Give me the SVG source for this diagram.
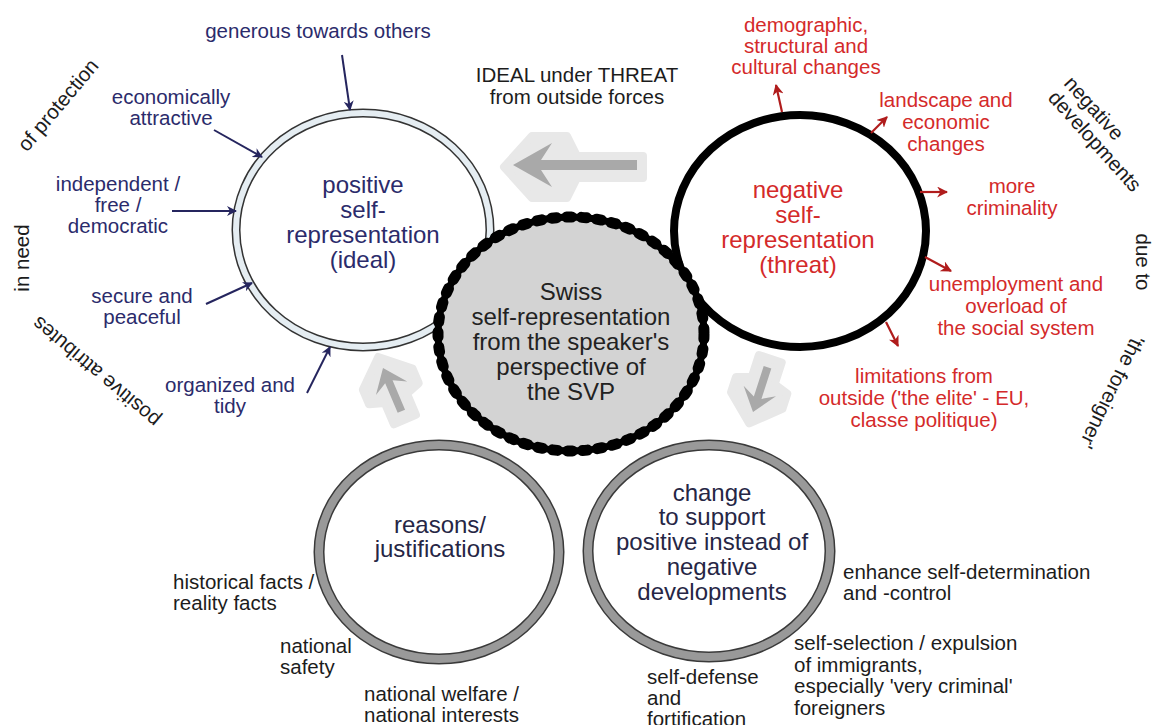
<svg xmlns="http://www.w3.org/2000/svg" width="1157" height="725" viewBox="0 0 1157 725">
<style>
text{font-family:"Liberation Sans",Arial,sans-serif}
.lbl{font-size:20.5px}
.big{font-size:24px;text-anchor:middle}
.blue{fill:#2b2b6b}
.red{fill:#d42a2a}
.blk{fill:#1c1c1c}
.mid{text-anchor:middle}
.bl{stroke:#25255e;stroke-width:2;fill:none}
.rl{stroke:#b01c1c;stroke-width:2.2;fill:none}
.outer{fill:#e8e8e8;stroke:#e8e8e8;stroke-width:8;stroke-linejoin:round}
.inner{fill:#a9a9a9}
</style>
<defs>
<marker id="ab" viewBox="0 0 10 10" refX="9" refY="5" markerWidth="5" markerHeight="5" orient="auto" markerUnits="strokeWidth"><path d="M0,0 L10,5 L0,10 L3,5 z" fill="#25255e"/></marker>
<marker id="ar" viewBox="0 0 10 10" refX="9" refY="5" markerWidth="5" markerHeight="5" orient="auto" markerUnits="strokeWidth"><path d="M0,0 L10,5 L0,10 L3,5 z" fill="#b01c1c"/></marker>
</defs>
<rect width="1157" height="725" fill="#fff"/>

<g id="positive">
<ellipse cx="363" cy="230" rx="127" ry="117" fill="#fff" stroke="#333" stroke-width="9"/>
<ellipse cx="363" cy="230" rx="127" ry="117" fill="none" stroke="#e5edf2" stroke-width="6"/>
<text class="big blue"><tspan x="363" y="193">positive</tspan><tspan x="363" y="218">self-</tspan><tspan x="363" y="243">representation</tspan><tspan x="363" y="268">(ideal)</tspan></text>
</g>

<g id="negative">
<ellipse cx="800" cy="231" rx="126" ry="116" fill="#fff" stroke="#000" stroke-width="8"/>
<text class="big red"><tspan x="798" y="198">negative</tspan><tspan x="798" y="223">self-</tspan><tspan x="798" y="248">representation</tspan><tspan x="798" y="273">(threat)</tspan></text>
</g>

<g id="reasons">
<ellipse cx="439" cy="552" rx="120" ry="107" fill="#fff" stroke="#3a3a3a" stroke-width="11"/>
<ellipse cx="439" cy="552" rx="120" ry="107" fill="none" stroke="#999" stroke-width="8"/>
<text class="big" fill="#262645"><tspan x="440" y="533">reasons/</tspan><tspan x="440" y="557">justifications</tspan></text>
</g>

<g id="change">
<ellipse cx="709" cy="551" rx="121" ry="106" fill="#fff" stroke="#3a3a3a" stroke-width="11"/>
<ellipse cx="709" cy="551" rx="121" ry="106" fill="none" stroke="#999" stroke-width="8"/>
<text class="big" fill="#262645"><tspan x="712" y="501">change</tspan><tspan x="712" y="525">to support</tspan><tspan x="712" y="550">positive instead of</tspan><tspan x="712" y="575">negative</tspan><tspan x="712" y="600">developments</tspan></text>
</g>

<g id="flow-arrows">
<g id="arrow-left">
<polygon class="outer" points="504,167 532,136 567,136 577,156 643,156 643,178 577,178 567,198 532,198"/>
<polygon class="inner" points="513,165 552,143 541,160 637,160 637,170 541,170 552,187"/>
</g>
<g id="arrow-up" transform="translate(383,368) rotate(67)">
<polygon class="outer" points="-12,0 12,-27 28,-27 33,-12 56,-12 56,12 33,12 28,27 12,27"/>
<polygon class="inner" points="0,0 22,-17 15,-4 47,-4 47,4 15,4 22,17"/>
</g>
<g id="arrow-down" transform="translate(753,412) rotate(-72)">
<polygon class="outer" points="-12,0 12,-27 28,-27 33,-12 56,-12 56,12 33,12 28,27 12,27"/>
<polygon class="inner" points="0,0 22,-17 15,-4 47,-4 47,4 15,4 22,17"/>
</g>
</g>

<g id="swiss">
<ellipse cx="571" cy="334" rx="133" ry="117" fill="#d3d3d3" stroke="#000" stroke-width="7"/>
<ellipse cx="571" cy="334" rx="133" ry="117" fill="none" stroke="#000" stroke-width="11" stroke-dasharray="5 10" stroke-linecap="round"/>
<text class="big" fill="#222"><tspan x="571" y="300">Swiss</tspan><tspan x="571" y="325">self-representation</tspan><tspan x="571" y="350">from the speaker's</tspan><tspan x="571" y="375">perspective of</tspan><tspan x="571" y="400">the SVP</tspan></text>
</g>

<g id="connectors">
<line class="bl" x1="342" y1="55" x2="350" y2="110" marker-end="url(#ab)"/>
<line class="bl" x1="214" y1="130" x2="262" y2="157" marker-end="url(#ab)"/>
<line class="bl" x1="172" y1="211" x2="236" y2="211" marker-end="url(#ab)"/>
<line class="bl" x1="206" y1="304" x2="252" y2="283" marker-end="url(#ab)"/>
<line class="bl" x1="307" y1="393" x2="330" y2="347" marker-end="url(#ab)"/>
<line class="rl" x1="782" y1="112" x2="776" y2="85" marker-end="url(#ar)"/>
<line class="rl" x1="871" y1="133" x2="887" y2="117" marker-end="url(#ar)"/>
<line class="rl" x1="920" y1="192" x2="947" y2="192" marker-end="url(#ar)"/>
<line class="rl" x1="925" y1="257" x2="951" y2="271" marker-end="url(#ar)"/>
<line class="rl" x1="886" y1="322" x2="898" y2="346" marker-end="url(#ar)"/>
</g>

<g id="labels-positive" class="lbl blue mid">
<text x="318" y="38">generous towards others</text>
<text><tspan x="171" y="104">economically</tspan><tspan x="171" y="125">attractive</tspan></text>
<text><tspan x="118" y="191">independent /</tspan><tspan x="118" y="212">free /</tspan><tspan x="118" y="233">democratic</tspan></text>
<text><tspan x="142" y="303">secure and</tspan><tspan x="142" y="324">peaceful</tspan></text>
<text><tspan x="230" y="392">organized and</tspan><tspan x="230" y="413">tidy</tspan></text>
</g>

<g id="labels-negative" class="lbl red mid">
<text><tspan x="806" y="32">demographic,</tspan><tspan x="806" y="53">structural and</tspan><tspan x="806" y="74">cultural changes</tspan></text>
<text><tspan x="946" y="107">landscape and</tspan><tspan x="946" y="129">economic</tspan><tspan x="946" y="151">changes</tspan></text>
<text><tspan x="1012" y="193">more</tspan><tspan x="1012" y="215">criminality</tspan></text>
<text><tspan x="1016" y="291">unemployment and</tspan><tspan x="1016" y="313">overload of</tspan><tspan x="1016" y="335">the social system</tspan></text>
<text><tspan x="924" y="383">limitations from</tspan><tspan x="924" y="405">outside ('the elite' - EU,</tspan><tspan x="924" y="427">classe politique)</tspan></text>
</g>

<g id="labels-black" class="lbl blk">
<text class="mid"><tspan x="577" y="82">IDEAL under THREAT</tspan><tspan x="577" y="104">from outside forces</tspan></text>
<text><tspan x="173" y="589">historical facts /</tspan><tspan x="173" y="610">reality facts</tspan></text>
<text><tspan x="280" y="653">national</tspan><tspan x="280" y="674">safety</tspan></text>
<text><tspan x="364" y="701">national welfare /</tspan><tspan x="364" y="722">national interests</tspan></text>
<text><tspan x="647" y="684">self-defense</tspan><tspan x="647" y="705">and</tspan><tspan x="647" y="726">fortification</tspan></text>
<text><tspan x="843" y="579">enhance self-determination</tspan><tspan x="843" y="600">and -control</tspan></text>
<text><tspan x="794" y="650">self-selection / expulsion</tspan><tspan x="794" y="672">of immigrants,</tspan><tspan x="794" y="693">especially 'very criminal'</tspan><tspan x="794" y="715">foreigners</tspan></text>
</g>

<g id="labels-rotated" class="lbl blk">
<text class="mid" transform="translate(58,105) rotate(-50)" y="7">of protection</text>
<text class="mid" transform="translate(22,258) rotate(-90)" y="7">in need</text>
<text class="mid" transform="translate(96,372) rotate(220)" y="7">positive attributes</text>
<text transform="translate(1063,84) rotate(48)"><tspan x="0" y="0">negative</tspan><tspan x="0" y="21.5">developments</tspan></text>
<text class="mid" transform="translate(1143,262) rotate(90)" y="7">due to</text>
<text class="mid" transform="translate(1112,392) rotate(116)" y="7">'the foreigner'</text>
</g>
</svg>
